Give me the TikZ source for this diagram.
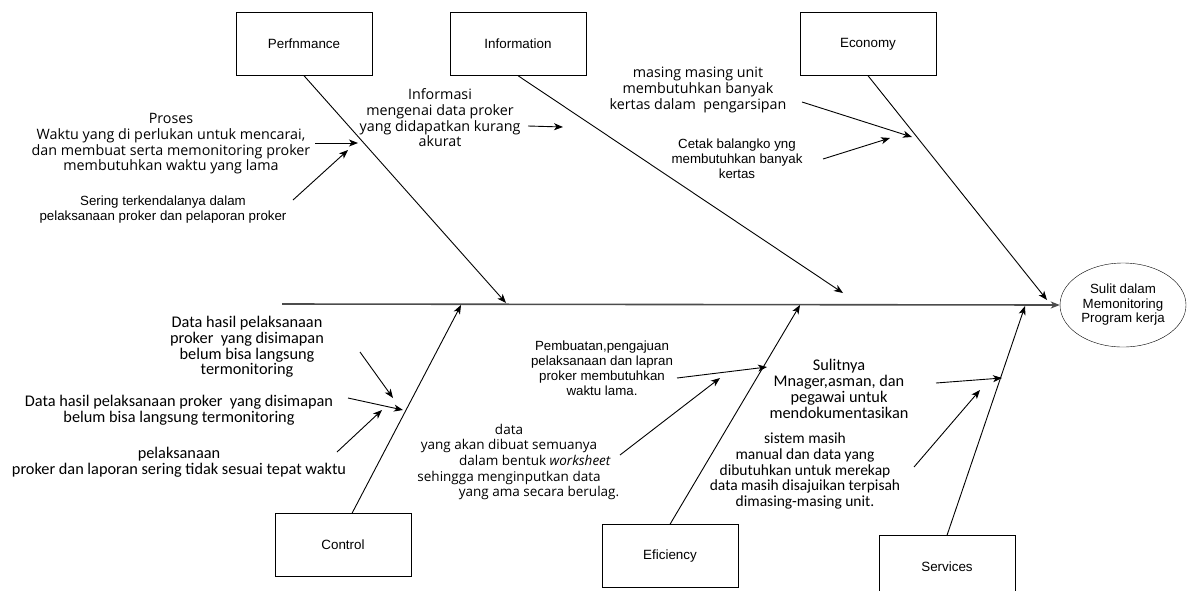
\documentclass[tikz,border=0pt]{standalone}
\usepackage{fontspec}
\setmainfont{Liberation Sans}
\newfontfamily\segoefont{Open Sans}
\newfontfamily\calibfont{Carlito}
\usepackage{tikz}
\usetikzlibrary{arrows.meta, positioning, shapes.geometric, calc}
\tikzset{
    category/.style={draw, minimum width=136pt, minimum height=63pt, inner sep=0pt, font=\fontsize{13.4}{15}\selectfont},
    effect/.style={draw, ellipse, minimum width=126pt, minimum height=84pt, inner sep=0pt, align=center, font=\fontsize{13.3}{14.5}\selectfont},
    plaintxt/.style={align=center, inner sep=0pt, font=\fontsize{13.3}{15}\selectfont},
    segoetxt/.style={align=center, inner sep=0pt, font=\segoefont\fontsize{14.3}{15.7}\selectfont},
    calibtxt/.style={align=center, inner sep=0pt, font=\calibfont\fontsize{16.3}{15.8}\selectfont},
    spine/.style={draw=black!70, line width=1.6pt},
    bone/.style={line width=0.9pt},
    cause/.style={line width=0.9pt},
}

\begin{document}
\begin{tikzpicture}[x=1pt, y=-1pt, >={Stealth[length=9pt, width=7pt, inset=2.5pt]}]
    \useasboundingbox (0,0) rectangle (1188,590);

    \node[category] (perf) at (304,44) {Perfnmance};
    \node[category] (info) at (518,44) {Information};
    \node[category] (econ) at (868,44) {Economy};
    \node[category] (ctrl) at (343,545) {Control};
    \node[category] (effi) at (670,556) {Eficiency};
    \node[category] (serv) at (947,567) {Services};
    \node[effect] (goal) at (1123,305) {Sulit dalam\\Memonitoring\\Program kerja};

    \coordinate (tail) at (282,304);
    \coordinate (perfhit) at (506,303);
    \coordinate (infohit) at (843,293);
    \coordinate (econhit) at (1047,300);
    \coordinate (ctrlhit) at (461,305);
    \coordinate (effihit) at (800,305);
    \coordinate (servhit) at (1025,306);

    \draw[spine, ->] (tail) -- (goal.west);
    \draw[bone, ->] (perf.south) -- (perfhit);
    \draw[bone, ->] (info.south) -- (infohit);
    \draw[bone, ->] (econ.south) -- (econhit);
    \draw[bone, ->] ([xshift=9pt]ctrl.north) -- (ctrlhit);
    \draw[bone, ->] (effi.north) -- (effihit);
    \draw[bone, ->] (serv.north) -- (servhit);

    \node[segoetxt] (proses) at (171,144) {Proses\\Waktu yang di perlukan untuk mencarai,\\dan membuat serta memonitoring proker\\membutuhkan waktu yang lama};
    \node[plaintxt] (sering) at (163,210) {Sering terkendalanya dalam\\pelaksanaan proker dan pelaporan proker};
    \node[segoetxt] (informasi) at (440,118) {Informasi\\mengenai data proker\\yang didapatkan kurang\\akurat};
    \node[segoetxt] (masing) at (698,90) {masing masing unit\\membutuhkan banyak\\kertas dalam~ pengarsipan};
    \node[plaintxt] (cetak) at (737,159) {Cetak balangko yng\\membutuhkan banyak\\kertas};
    \node[calibtxt] (hasilA) at (247,347) {Data hasil pelaksanaan\\proker~ yang disimapan\\belum bisa langsung\\termonitoring};
    \node[calibtxt] (hasilB) at (179,410) {Data hasil pelaksanaan proker~ yang disimapan\\belum bisa langsung termonitoring};
    \node[calibtxt] (laporan) at (179,462) {pelaksanaan\\proker dan laporan sering tidak sesuai tepat waktu};
    \node[plaintxt] (pembuatan) at (602,368) {Pembuatan,pengajuan\\pelaksanaan dan lapran\\proker membutuhkan\\waktu lama.};
    \node[segoetxt, font=\segoefont\fontsize{13.5}{15.7}\selectfont] (worksheet) at (521,462) {\hspace*{-24pt}data\\\hspace*{-24pt}yang akan dibuat semuanya\\\hspace*{28pt}dalam bentuk \textit{worksheet}\\\hspace*{-24pt}sehingga menginputkan data\\\hspace*{36pt}yang ama secara berulag.};
    \node[calibtxt] (sulitnya) at (839,389) {Sulitnya\\Mnager,asman, dan\\pegawai untuk\\mendokumentasikan};
    \node[calibtxt, font=\calibfont\fontsize{15.5}{15.8}\selectfont] (manual) at (805,471) {sistem masih\\manual dan data yang\\dibutuhkan untuk merekap\\data masih disajuikan terpisah\\dimasing-masing unit.};

    \coordinate (prosesA) at (315,143);  \coordinate (prosesB) at (358,143);
    \coordinate (seringA) at (293,200);  \coordinate (seringB) at (348,150);
    \coordinate (infoA) at (528,126);    \coordinate (infoB) at (563,127);
    \coordinate (masingA) at (802,102);  \coordinate (masingB) at (912,137);
    \coordinate (cetakA) at (823,159);   \coordinate (cetakB) at (890,138);
    \coordinate (hasilAa) at (360,352);  \coordinate (hasilAb) at (393,398);
    \coordinate (hasilBa) at (348,398);  \coordinate (hasilBb) at (403,410);
    \coordinate (laporanA) at (337,452); \coordinate (laporanB) at (382,410);
    \coordinate (buatA) at (677,378);    \coordinate (buatB) at (767,367);
    \coordinate (sheetA) at (620,455);   \coordinate (sheetB) at (720,378);
    \coordinate (sulitA) at (936,383);   \coordinate (sulitB) at (1002,378);
    \coordinate (manualA) at (914,467);  \coordinate (manualB) at (980,390);

    \foreach \a/\b in {prosesA/prosesB, seringA/seringB, infoA/infoB, masingA/masingB, cetakA/cetakB, hasilAa/hasilAb, hasilBa/hasilBb, laporanA/laporanB, buatA/buatB, sheetA/sheetB, sulitA/sulitB, manualA/manualB}
        \draw[cause, ->] (\a) -- (\b);
\end{tikzpicture}
\end{document}
